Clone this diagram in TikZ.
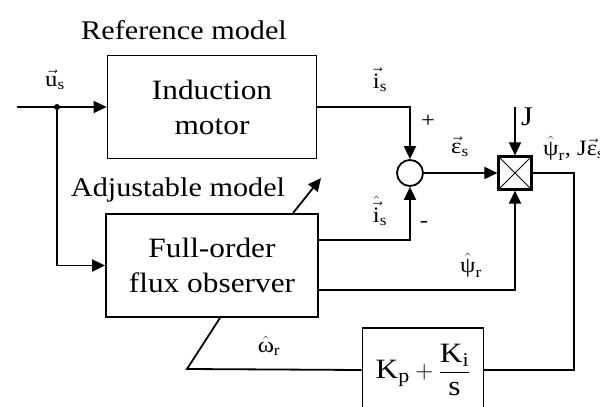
\documentclass[tikz,border=0pt]{standalone}
\usepackage{amsmath}
\usepackage{fontspec}
\setmainfont[FakeStretch=1.12]{Liberation Serif}
\usetikzlibrary{positioning,arrows.meta}
\tikzset{
  blockbox/.style  = {rectangle, draw, line width=1.8pt, align=center,
                      inner sep=0pt, font=\fontsize{28}{35}\selectfont},
  sumnode/.style   = {circle, draw, line width=1.8pt, minimum size=26pt, inner sep=0pt},
  mulnode/.style   = {rectangle, draw, line width=2.2pt, minimum width=33pt,
                      minimum height=33pt, inner sep=0pt},
  dotnode/.style   = {circle, fill, minimum size=6pt, inner sep=0pt},
  sigline/.style   = {line width=1.8pt, -{Triangle[length=13pt,width=12pt]}},
  plainline/.style = {line width=1.8pt},
  siglbl/.style    = {font=\fontsize{22}{24}\selectfont, inner sep=0pt, anchor=base},
  titlelbl/.style  = {font=\fontsize{27}{29}\selectfont, inner sep=0pt, anchor=base}
}
\newcommand{\tx}[1]{\text{#1}}

\begin{document}
\begin{tikzpicture}[x=1pt, y=-1pt]
  \useasboundingbox (0,0) rectangle (600,407);
  % Blocks
  \node[blockbox, minimum width=209pt, minimum height=103pt] (motor) at (212,107) {Induction\\motor};
  \node[blockbox, minimum width=212pt, minimum height=103pt] (observer) at (212,265.5)
       {Full-order\\flux observer};
  \node[sumnode] (sum)  at (410,173) {};
  \node[mulnode] (mult) at (515,173) {};
  \draw[line width=1pt] (mult.north west) -- (mult.south east);
  \draw[line width=1pt] (mult.south west) -- (mult.north east);
  \node[blockbox, minimum width=121pt, minimum height=84pt] (pictrl) at (423,370)
       {$\tx{K}_{\tx{p}} + \dfrac{\tx{K}_{\tx{i}}}{\tx{s}}$};
  \node[dotnode] (split) at (57,107) {};
  % Titles
  \node[titlelbl] (reftitle) at (184,39)  {Reference model};
  \node[titlelbl] (adjtitle) at (178,196) {Adjustable model};
  % Signal labels
  \node[siglbl] (ulbl)   at (55,86)   {$\vec{\tx{u}}_{\tx{s}}$};
  \node[siglbl] (ilbl)   at (380,88)  {$\vec{\tx{i}}_{\tx{s}}$};
  \node[siglbl] (ihlbl)  at (380,222) {$\hat{\vec{\tx{i}}}_{\tx{s}}$};
  \node[siglbl] (elbl)   at (460,153) {$\vec{\tx{ε}}_{\tx{s}}$};
  \node[siglbl] (plbl)   at (428,127) {+};
  \node[siglbl] (mlbl)   at (424,227) {-};
  \node[siglbl] (psilbl) at (471,272) {$\hat{\tx{ψ}}_{\tx{r}}$};
  \node[siglbl] (wlbl)   at (269,352) {$\hat{\tx{ω}}_{\tx{r}}$};
  \node[siglbl, font=\fontsize{27}{29}\selectfont] (jlbl) at (527,125) {J};
  \node[siglbl, anchor=base west] (outlbl) at (543,155)
       {$\hat{\tx{ψ}}_{\tx{r}}$, J$\vec{\tx{ε}}_{\tx{s}}$};
  % Free ends
  \coordinate (uin)    at (17,107);
  \coordinate (jin)    at (515,107);
  \coordinate (adjtip) at (321,178);
  \coordinate (wbend)  at (187,369);
  % Connectors
  \draw[sigline] (uin) -- (motor.west);
  \draw[sigline] (split) |- (observer.west);
  \draw[sigline] (motor.east) -| (sum.north);
  \draw[sigline] ([yshift=25.5pt]observer.east) -| (sum.south);
  \draw[sigline] ([yshift=-24.5pt]observer.east) -| (mult.south);
  \draw[sigline] (sum.east) -- (mult.west);
  \draw[sigline] (jin) -- (mult.north);
  \draw[plainline] (mult.east) -- ++(41.5,0) |- (pictrl.east);
  \draw[plainline] (pictrl.west) -- (wbend) -- ([xshift=8pt]observer.south);
  \draw[sigline] ([xshift=81pt]observer.north) -- (adjtip);
\end{tikzpicture}
\end{document}
